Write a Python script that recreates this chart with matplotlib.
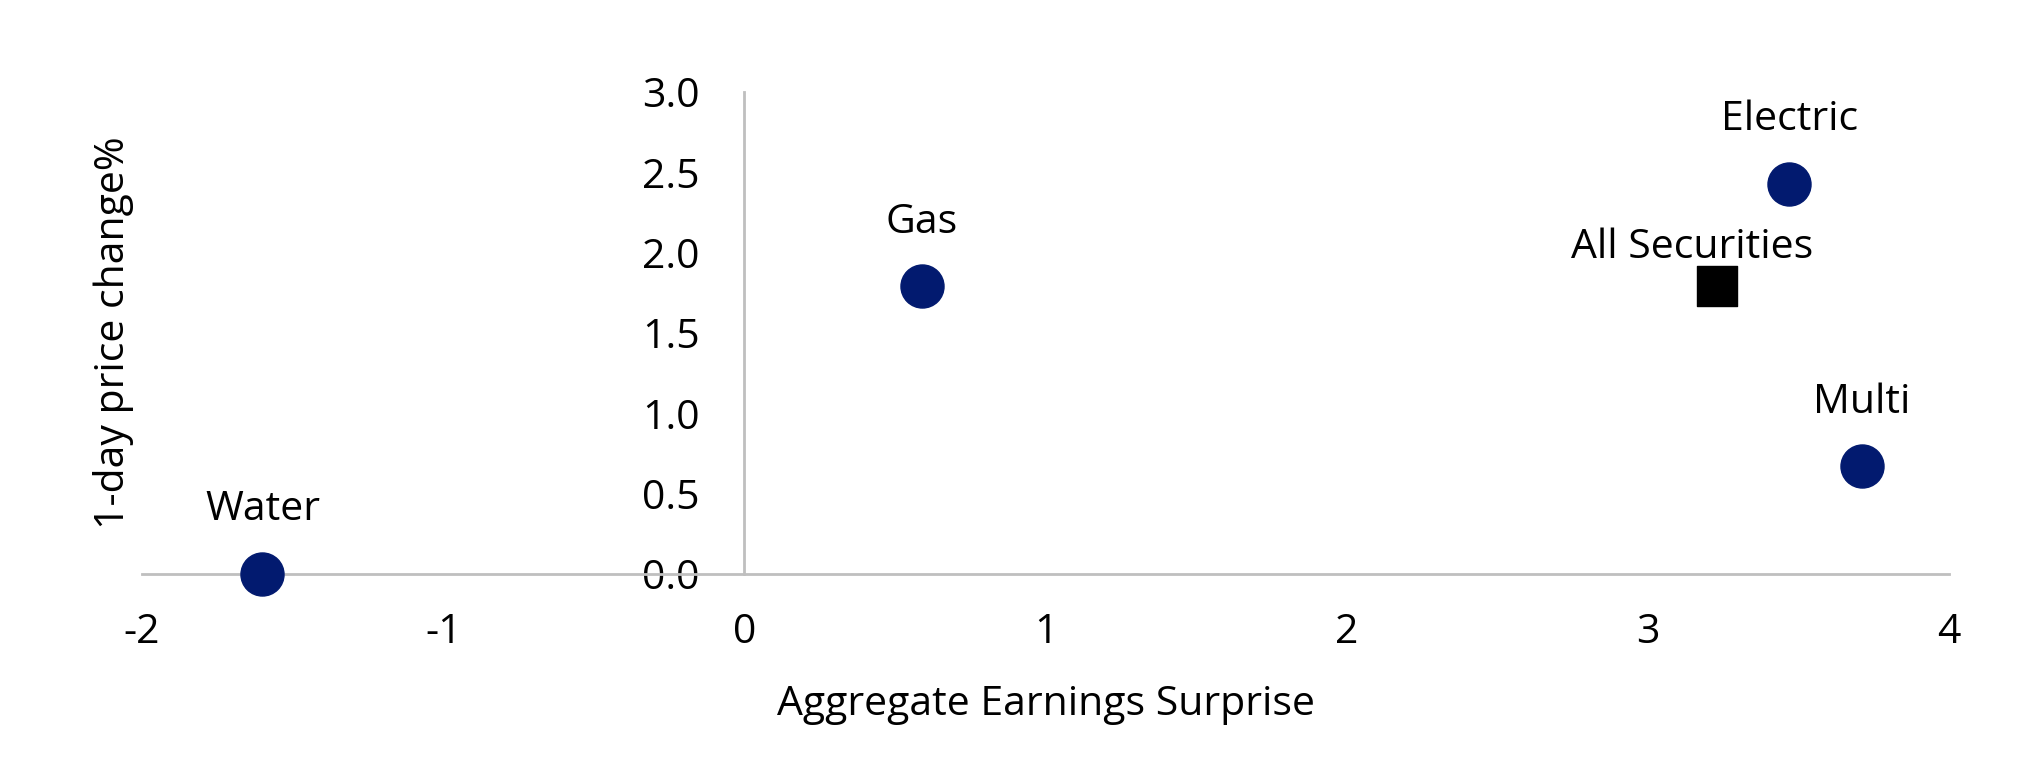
import matplotlib
matplotlib.use("Agg")
from matplotlib import pyplot as plt

# Data
sectors = ["Water", "Gas", "Electric", "Multi"]
surprise = [-1.6, 0.59, 3.47, 3.71]
price_change = [0.0, 1.79, 2.43, 0.67]

all_label = "All Securities"
all_surprise = [3.23]
all_price_change = [1.79]

x_ticks = [-2, -1, 0, 1, 2, 3, 4]
y_ticks = [0.0, 0.5, 1.0, 1.5, 2.0, 2.5, 3.0]


def main():
    plt.rcParams["font.family"] = ["Open Sans", "DejaVu Sans"]
    plt.rcParams["font.size"] = 29.5

    fig = plt.figure(figsize=(20.29, 7.57), dpi=100)
    ax = fig.add_axes([0.070, 0.2417, 0.8906, 0.6368])

    navy = "#021a6f"
    grey = "#bfbfbf"

    ax.scatter(surprise, price_change, s=960, color=navy, zorder=3, clip_on=False)
    ax.scatter(all_surprise, all_price_change, s=850, marker="s", color="black",
               zorder=3, clip_on=False)

    for name, x, y in zip(sectors, surprise, price_change):
        ax.annotate(name, (x, y), xytext=(0, 46), textcoords="offset points",
                    ha="center", va="center")
    ax.annotate(all_label, (all_surprise[0], all_price_change[0]), xytext=(-18, 28),
                textcoords="offset points", ha="center", va="center")

    ax.set_xlim(-2, 4)
    ax.set_ylim(0, 3)
    ax.set_xticks(x_ticks)
    ax.set_xticklabels([str(t) for t in x_ticks])
    ax.set_yticks(y_ticks)
    ax.set_yticklabels([f"{t:.1f}" for t in y_ticks])

    # axes crossing at the origin
    for side in ["top", "right"]:
        ax.spines[side].set_visible(False)
    ax.spines["left"].set_position(("data", 0))
    ax.spines["bottom"].set_position(("data", 0))
    for side in ["left", "bottom"]:
        ax.spines[side].set_color(grey)
        ax.spines[side].set_linewidth(2)
    ax.tick_params(axis="both", length=0)
    ax.tick_params(axis="y", pad=32)
    ax.tick_params(axis="x", pad=28)

    ax.set_xlabel("Aggregate Earnings Surprise", va="center")
    ax.xaxis.set_label_coords(0.5, -0.272)
    ax.set_ylabel("1-day price change%", va="center")
    ax.yaxis.set_label_coords(-0.016, 0.5)

    fig.savefig("out.png", dpi=100)


if __name__ == "__main__":
    main()
